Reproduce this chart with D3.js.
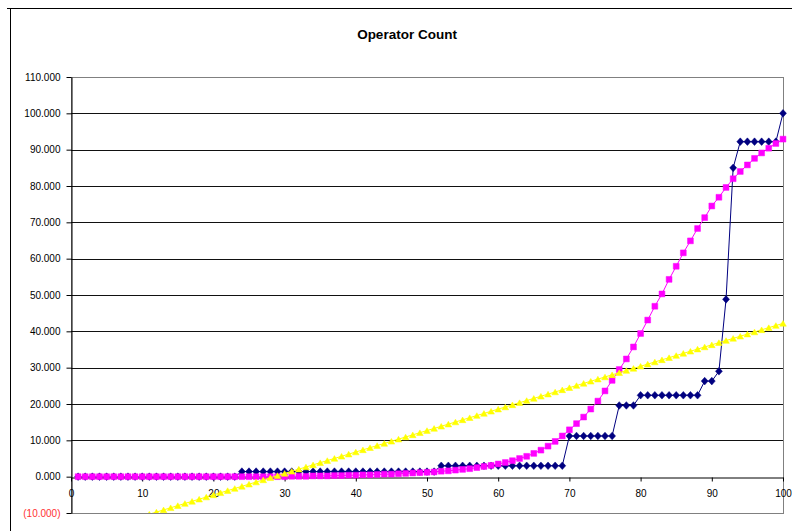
<!DOCTYPE html>
<html>
<head>
<meta charset="utf-8">
<script src="https://cdn.jsdelivr.net/npm/d3@7"></script>
<style>
  html, body { margin: 0; padding: 0; background: #fff; }
  svg { display: block; }
  text { font-family: Arial, "Liberation Sans", sans-serif; }
</style>
</head>
<body>
<svg id="chart" width="792" height="531"></svg>
<script>
// ---- data ----
const title = "Operator Count";
const xValues = d3.range(1, 101); // categories 1..100
const xTicks = [0, 10, 20, 30, 40, 50, 60, 70, 80, 90, 100];
const yTicks = [-10, 0, 10, 20, 30, 40, 50, 60, 70, 80, 90, 100, 110];

const seriesBlue = [
  0,0,0,0,0,0,0,0,0,0,
  0,0,0,0,0,0,0,0,0,0,
  0,0,0,1.4,1.4,1.4,1.4,1.4,1.4,1.4,
  1.4,1.4,1.4,1.4,1.4,1.4,1.4,1.4,1.4,1.4,
  1.4,1.4,1.4,1.4,1.4,1.4,1.4,1.4,1.4,1.4,
  1.4,3.0,3.0,3.0,3.0,3.0,3.0,3.0,3.0,3.0,
  3.0,3.0,3.0,3.0,3.0,3.0,3.0,3.0,3.0,11.2,
  11.2,11.2,11.2,11.2,11.2,11.2,19.6,19.6,19.6,22.4,
  22.4,22.4,22.4,22.4,22.4,22.4,22.4,22.4,26.3,26.3,
  29.0,48.8,85.0,92.2,92.2,92.2,92.2,92.2,92.2,100.0
];
const seriesPink = [
  0,0,0,0,0,0,0,0,0,0,
  0,0,0,0,0,0,0,0,0,0,
  0,0,0,0,0,0,0,0,0,0,
  0.1,0.1,0.1,0.2,0.2,0.2,0.3,0.3,0.4,0.4,
  0.5,0.5,0.6,0.7,0.7,0.8,0.9,1.0,1.1,1.2,
  1.3,1.5,1.6,1.8,2.0,2.2,2.5,2.8,3.1,3.5,
  3.9,4.4,5.0,5.6,6.4,7.3,8.4,9.7,11.2,12.9,
  14.6,16.4,18.6,20.8,23.6,26.5,29.5,32.4,35.7,39.4,
  43.1,46.9,50.3,54.3,57.9,61.6,64.9,68.3,71.3,74.5,
  76.9,79.6,82.0,84.0,85.8,87.6,89.1,90.4,91.7,92.9
];
const seriesYellow = [
  -16.23,-15.64,-15.05,-14.46,-13.87,-13.28,-12.69,-12.10,-11.51,-10.92,
  -10.33,-9.74,-9.15,-8.56,-7.97,-7.38,-6.79,-6.20,-5.61,-5.02,
  -4.43,-3.84,-3.25,-2.66,-2.07,-1.48,-0.89,-0.30,0.30,0.89,
  1.48,2.07,2.66,3.25,3.84,4.43,5.02,5.61,6.20,6.79,
  7.38,7.97,8.56,9.15,9.74,10.33,10.92,11.51,12.10,12.69,
  13.28,13.87,14.46,15.05,15.64,16.23,16.82,17.41,18.00,18.59,
  19.18,19.77,20.36,20.95,21.54,22.13,22.72,23.31,23.90,24.49,
  25.08,25.67,26.26,26.85,27.44,28.03,28.62,29.21,29.80,30.39,
  30.98,31.57,32.16,32.75,33.34,33.93,34.52,35.11,35.70,36.29,
  36.88,37.47,38.06,38.65,39.24,39.83,40.42,41.01,41.60,42.19
];

// ---- layout ----
const svg = d3.select("#chart");
const plot = { left: 71, right: 783, top: 77, bottom: 513 };
const x = d3.scaleLinear().domain([0, 100]).range([plot.left, plot.right]);
const y = d3.scaleLinear().domain([-10, 110]).range([plot.bottom, plot.top]);

// outer chart-area border (left & top visible)
svg.append("line").attr("x1", 10.5).attr("x2", 10.5).attr("y1", 8).attr("y2", 531)
  .attr("stroke", "#000").attr("stroke-width", 1);
svg.append("line").attr("x1", 7).attr("x2", 792).attr("y1", 8.5).attr("y2", 8.5)
  .attr("stroke", "#000").attr("stroke-width", 1);

// plot-area background/border
svg.append("rect")
  .attr("x", plot.left).attr("y", plot.top)
  .attr("width", plot.right - plot.left).attr("height", plot.bottom - plot.top)
  .attr("fill", "#fff").attr("stroke", "#808080").attr("stroke-width", 1)
  .attr("shape-rendering", "crispEdges");

// gridlines
svg.append("g").selectAll("line")
  .data(yTicks.filter(v => v > -10 && v < 110 && v !== 0))
  .join("line")
  .attr("x1", plot.left).attr("x2", plot.right)
  .attr("y1", d => Math.round(y(d)) + 0.5).attr("y2", d => Math.round(y(d)) + 0.5)
  .attr("stroke", "#111").attr("stroke-width", 1.2);

// title
svg.append("text").attr("x", 407).attr("y", 39)
  .attr("text-anchor", "middle").attr("font-weight", "bold")
  .attr("font-size", "13.5px").attr("fill", "#000").text(title);

// y axis
const fmtY = v => v < 0 ? "(" + Math.abs(v).toFixed(3) + ")" : v.toFixed(3);
const yAxis = svg.append("g").attr("transform", `translate(${plot.left + 0.5},0)`)
  .call(d3.axisLeft(y).tickValues(yTicks).tickFormat(fmtY).tickSize(5).tickPadding(6).tickSizeOuter(0));
yAxis.select(".domain").attr("stroke", "#000");
yAxis.selectAll(".tick line").attr("stroke", "#000");
yAxis.selectAll(".tick text")
  .attr("font-size", "10px")
  .attr("font-family", "Arial, 'Liberation Sans', sans-serif")
  .attr("fill", d => d < 0 ? "#ff3333" : "#000");

// x axis at y=0
const xAxis = svg.append("g").attr("transform", `translate(0,${Math.round(y(0)) + 0.5})`)
  .call(d3.axisBottom(x).tickValues(xTicks).tickFormat(d3.format("d")).tickSize(4).tickPadding(8).tickSizeOuter(0));
xAxis.select(".domain").attr("stroke", "#000");
xAxis.selectAll(".tick line").attr("stroke", "#000");
xAxis.selectAll(".tick text")
  .attr("font-size", "10px")
  .attr("font-family", "Arial, 'Liberation Sans', sans-serif")
  .attr("fill", "#000");

// clip
svg.append("clipPath").attr("id", "clip").append("rect")
  .attr("x", plot.left).attr("y", plot.top - 4)
  .attr("width", plot.right - plot.left + 4).attr("height", plot.bottom - plot.top + 4);

const g = svg.append("g").attr("clip-path", "url(#clip)");
const line = d3.line().x(d => x(d[0])).y(d => y(d[1]));

// Excel-like symbols
const excelDiamond = {
  draw(ctx, size) {
    const r = Math.sqrt(size / 2);
    ctx.moveTo(0, -r * 1.1); ctx.lineTo(r, 0); ctx.lineTo(0, r * 1.1); ctx.lineTo(-r, 0); ctx.closePath();
  }
};
const excelTriangle = {
  draw(ctx, size) {
    const w = Math.sqrt(size * 2) / 2;
    const h = w * 1.7;
    ctx.moveTo(0, -h / 2); ctx.lineTo(w, h / 2); ctx.lineTo(-w, h / 2); ctx.closePath();
  }
};

function drawSeries(vals, color, symbolType, size) {
  const pts = xValues.map((xv, i) => [xv, vals[i]]);
  g.append("path").datum(pts).attr("d", line)
    .attr("fill", "none").attr("stroke", color).attr("stroke-width", 1);
  g.append("g").selectAll("path").data(pts).join("path")
    .attr("transform", d => `translate(${x(d[0])},${y(d[1])})`)
    .attr("d", d3.symbol().type(symbolType).size(size))
    .attr("fill", color).attr("stroke", color).attr("stroke-width", 0.5);
}

drawSeries(seriesBlue, "#000080", excelDiamond, 24);
drawSeries(seriesPink, "#ff00ff", d3.symbolSquare, 34);
drawSeries(seriesYellow, "#ffff00", excelTriangle, 22);
</script>
</body>
</html>
